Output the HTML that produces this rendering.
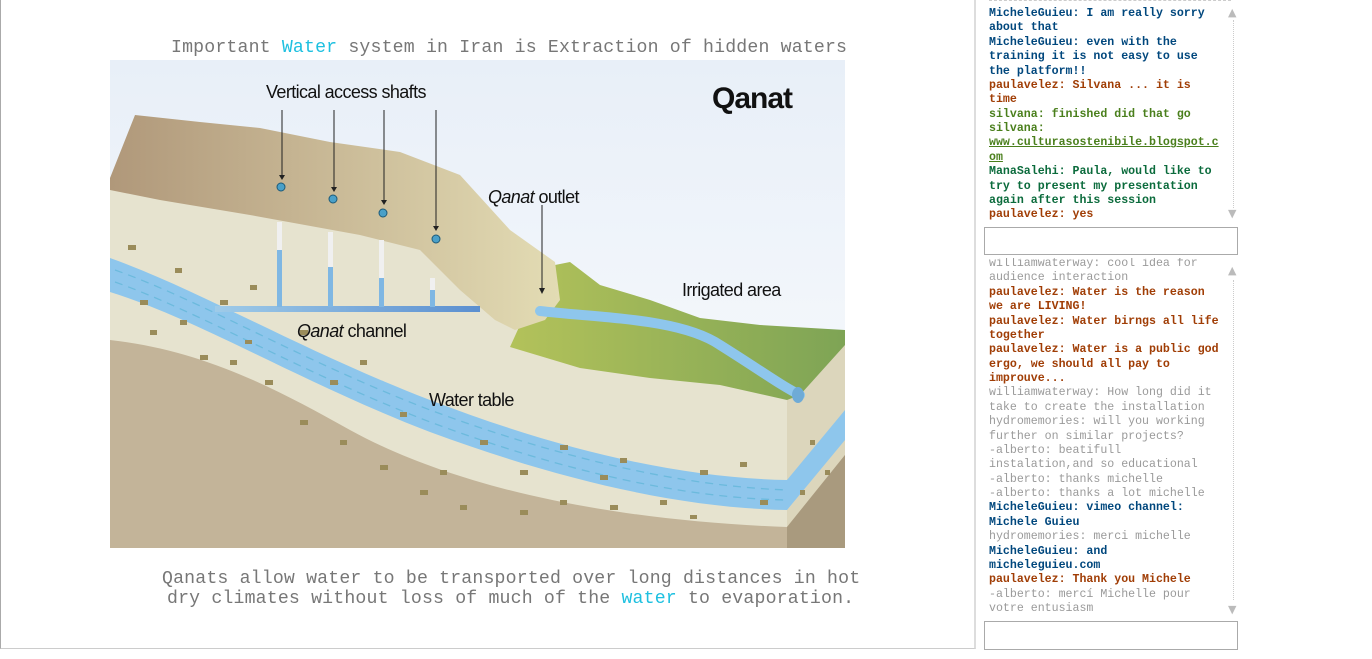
<!DOCTYPE html>
<html><head><meta charset="utf-8"><style>
body{margin:0;width:1372px;height:659px;background:#fff;position:relative;overflow:hidden;font-family:"Liberation Mono",monospace}
.panel{position:absolute;left:0;top:-2px;width:973px;height:650px;border-left:1px solid #aaa;border-bottom:1px solid #ccc;border-right:2px solid #ddd}
.cap{position:absolute;font-size:18.2px;color:#777;white-space:pre;letter-spacing:0.17px}
.w{color:#1ec0e0}
.chat{position:absolute;left:989px;width:245px;font-size:11.6px;line-height:14.38px;overflow:hidden}
.chat div{white-space:pre}
.b{color:#00477d;font-weight:bold}.r{color:#a03d05;font-weight:bold}.g{color:#4a7f1c;font-weight:bold}.m{color:#0b6b3c;font-weight:bold}.y{color:#9a9a9a}
.u{text-decoration:underline}
.inp{position:absolute;left:984px;width:252px;border:1px solid #aaa;background:#fff}
.sb{position:absolute;left:1233px;border-left:1px dotted #ccc;width:0}
.ar{position:absolute;left:1228px;color:#bbb;font-size:11px;font-family:"DejaVu Sans",sans-serif}
</style></head><body>
<div class="panel"></div>
<div class="cap" style="top:38px;left:171px">Important <span class="w">Water</span> system in Iran is Extraction of hidden waters</div>
<svg style="position:absolute;left:0;top:0" width="1372" height="659" viewBox="0 0 1372 659">
<defs>
<linearGradient id="sky" x1="0" y1="0" x2="0" y2="1"><stop offset="0" stop-color="#e8eff8"/><stop offset="1" stop-color="#fbfcfd"/></linearGradient>
<linearGradient id="hill" x1="0" y1="0" x2="1" y2="0"><stop offset="0" stop-color="#b0987a"/><stop offset="1" stop-color="#e3dcb4"/></linearGradient>
<linearGradient id="grn" x1="0" y1="0" x2="1" y2="0"><stop offset="0" stop-color="#b3c25a"/><stop offset="1" stop-color="#7ea455"/></linearGradient>
<linearGradient id="ch" x1="0" y1="0" x2="1" y2="0"><stop offset="0" stop-color="#9fcbe8"/><stop offset="1" stop-color="#5b8fd0"/></linearGradient>
</defs>
<rect x="110" y="60" width="735" height="488" fill="url(#sky)"/>
<path d="M110 185 L400 235 L520 320 L790 400 L845 330 L845 548 L110 548Z" fill="#e6e3cf"/>
<path d="M787 400 L845 330 L845 548 L787 548Z" fill="#dcd6bc"/>
<path d="M110 258 C200 290 300 350 430 400 C560 450 680 478 787 480 L787 510 C680 508 560 480 430 432 C300 382 200 320 110 292Z" fill="#8ec6ec"/>
<path d="M787 480 L845 410 L845 440 L787 510Z" fill="#8ec6ec"/>
<g stroke="#6cbadd" stroke-width="1.3" stroke-dasharray="8 6" fill="none">
<path d="M115 270 C200 300 300 360 430 410 C560 458 680 486 787 490"/>
<path d="M115 282 C200 312 300 372 430 422 C560 470 680 498 787 500"/>
</g>
<path d="M110 340 C200 350 270 385 350 430 C450 485 600 520 787 527 L845 455 L845 548 L110 548Z" fill="#c3b499"/>
<path d="M787 527 L845 455 L845 548 L787 548Z" fill="#a99a7e"/>
<path d="M555 265 L570 262 L600 285 L650 300 L700 318 L760 325 L845 330 L845 345 L800 395 L787 400 L720 385 L650 378 L580 368 L510 347 L520 325 L545 305Z" fill="url(#grn)"/>
<path d="M110 178 L135 115 L200 122 L260 128 L330 142 L400 152 L460 175 L510 230 L555 262 L560 300 L545 320 L515 330 L495 320 L460 290 L420 250 L360 235 L250 215 L160 200 L110 190Z" fill="url(#hill)"/>
<path d="M540 311 C600 318 680 318 720 345 C760 370 780 385 800 395" stroke="#8ec6ec" stroke-width="10" fill="none" stroke-linecap="round"/>
<ellipse cx="798" cy="395" rx="6" ry="8" fill="#6fabd6"/>
<rect x="215" y="306" width="265" height="6" fill="url(#ch)"/>
<g fill="#f0f0f0"><rect x="277" y="222" width="5" height="85"/><rect x="328" y="232" width="5" height="75"/><rect x="379" y="240" width="5" height="67"/><rect x="430" y="278" width="5" height="29"/></g>
<g fill="#7fb7e3"><rect x="277" y="250" width="5" height="57"/><rect x="328" y="267" width="5" height="40"/><rect x="379" y="278" width="5" height="29"/><rect x="430" y="290" width="5" height="17"/></g>
<g fill="#9a8c5a">
<rect x="128" y="245" width="8" height="5"/><rect x="175" y="268" width="7" height="5"/><rect x="140" y="300" width="8" height="5"/><rect x="180" y="320" width="7" height="5"/><rect x="220" y="300" width="8" height="5"/><rect x="245" y="340" width="7" height="4"/><rect x="265" y="380" width="8" height="5"/><rect x="300" y="420" width="8" height="5"/><rect x="340" y="440" width="7" height="5"/><rect x="380" y="465" width="8" height="5"/><rect x="420" y="490" width="8" height="5"/><rect x="460" y="505" width="7" height="5"/><rect x="520" y="510" width="8" height="5"/><rect x="560" y="500" width="7" height="5"/><rect x="610" y="505" width="8" height="5"/><rect x="660" y="500" width="7" height="5"/><rect x="700" y="470" width="8" height="5"/><rect x="740" y="462" width="7" height="5"/><rect x="560" y="445" width="8" height="5"/><rect x="620" y="458" width="7" height="5"/><rect x="480" y="440" width="8" height="5"/><rect x="400" y="412" width="7" height="5"/><rect x="330" y="380" width="8" height="5"/><rect x="150" y="330" width="7" height="5"/><rect x="200" y="355" width="8" height="5"/><rect x="690" y="515" width="7" height="4"/><rect x="760" y="500" width="8" height="5"/><rect x="810" y="440" width="5" height="5"/><rect x="825" y="470" width="5" height="5"/><rect x="800" y="490" width="5" height="5"/><rect x="250" y="285" width="7" height="5"/><rect x="300" y="330" width="8" height="5"/><rect x="360" y="360" width="7" height="5"/><rect x="520" y="470" width="8" height="5"/><rect x="440" y="470" width="7" height="5"/><rect x="230" y="360" width="7" height="5"/><rect x="600" y="475" width="8" height="5"/>
</g>
<g stroke="#222" stroke-width="1"><line x1="282" y1="110" x2="282" y2="177"/><line x1="334" y1="110" x2="334" y2="190"/><line x1="384" y1="110" x2="384" y2="203"/><line x1="436" y1="110" x2="436" y2="229"/><line x1="542" y1="205" x2="542" y2="290"/></g>
<g fill="#222"><path d="M279 175h6l-3 5z"/><path d="M331 187h6l-3 5z"/><path d="M381 200h6l-3 5z"/><path d="M433 226h6l-3 5z"/><path d="M539 288h6l-3 6z"/></g>
<g fill="#4aa0c8" stroke="#1d5a78" stroke-width="1"><circle cx="281" cy="187" r="4"/><circle cx="333" cy="199" r="4"/><circle cx="383" cy="213" r="4"/><circle cx="436" cy="239" r="4"/></g>
<g font-family="Liberation Sans,sans-serif" fill="#111" font-size="18" style="letter-spacing:-0.6px">
<text x="266" y="98">Vertical access shafts</text>
<text x="488" y="203"><tspan font-style="italic">Qanat</tspan> outlet</text>
<text x="682" y="296">Irrigated area</text>
<text x="297" y="337"><tspan font-style="italic">Qanat</tspan> channel</text>
<text x="429" y="406">Water table</text>
<text x="712" y="108" font-size="30" font-weight="bold" style="letter-spacing:-1px">Qanat</text>
</g>
</svg>
<div class="cap" style="top:569px;left:162px">Qanats allow water to be transported over long distances in hot</div>
<div class="cap" style="top:589px;left:167px">dry climates without loss of much of the <span class="w">water</span> to evaporation.</div>

<div style="position:absolute;left:989px;top:0;width:242px;border-top:1px dashed #ccc"></div>
<div class="chat" style="top:7px;height:216px">
<div class="b">MicheleGuieu: I am really sorry</div><div class="b">about that</div>
<div class="b">MicheleGuieu: even with the</div><div class="b">training it is not easy to use</div><div class="b">the platform!!</div>
<div class="r">paulavelez: Silvana ... it is</div><div class="r">time</div>
<div class="g">silvana: finished did that go</div><div class="g">silvana:</div><div class="g u">www.culturasostenibile.blogspot.c</div><div class="g u">om</div>
<div class="m">ManaSalehi: Paula, would like to</div><div class="m">try to present my presentation</div><div class="m">again after this session</div>
<div class="r">paulavelez: yes</div>
</div>
<div class="sb" style="top:20px;height:188px"></div>
<div class="ar" style="top:6px">▲</div><div class="ar" style="top:207px">▼</div>
<div class="inp" style="top:227px;height:26px"></div>
<div class="chat" style="top:258px;height:359px">
<div class="y" style="margin-top:-1px">williamwaterway: cool idea for</div><div class="y">audience interaction</div>
<div class="r">paulavelez: Water is the reason</div><div class="r">we are LIVING!</div>
<div class="r">paulavelez: Water birngs all life</div><div class="r">together</div>
<div class="r">paulavelez: Water is a public god</div><div class="r">ergo, we should all pay to</div><div class="r">improuve...</div>
<div class="y">williamwaterway: How long did it</div><div class="y">take to create the installation</div>
<div class="y">hydromemories: will you working</div><div class="y">further on similar projects?</div>
<div class="y">-alberto: beatifull</div><div class="y">instalation,and so educational</div>
<div class="y">-alberto: thanks michelle</div><div class="y">-alberto: thanks a lot michelle</div>
<div class="b">MicheleGuieu: vimeo channel:</div><div class="b">Michele Guieu</div>
<div class="y">hydromemories: merci michelle</div>
<div class="b">MicheleGuieu: and</div><div class="b">micheleguieu.com</div>
<div class="r">paulavelez: Thank you Michele</div>
<div class="y">-alberto: mercí Michelle pour</div><div class="y">votre entusiasm</div>
</div>
<div class="sb" style="top:280px;height:320px"></div>
<div class="ar" style="top:264px">▲</div><div class="ar" style="top:603px">▼</div>
<div class="inp" style="top:621px;height:27px"></div>
</body></html>
